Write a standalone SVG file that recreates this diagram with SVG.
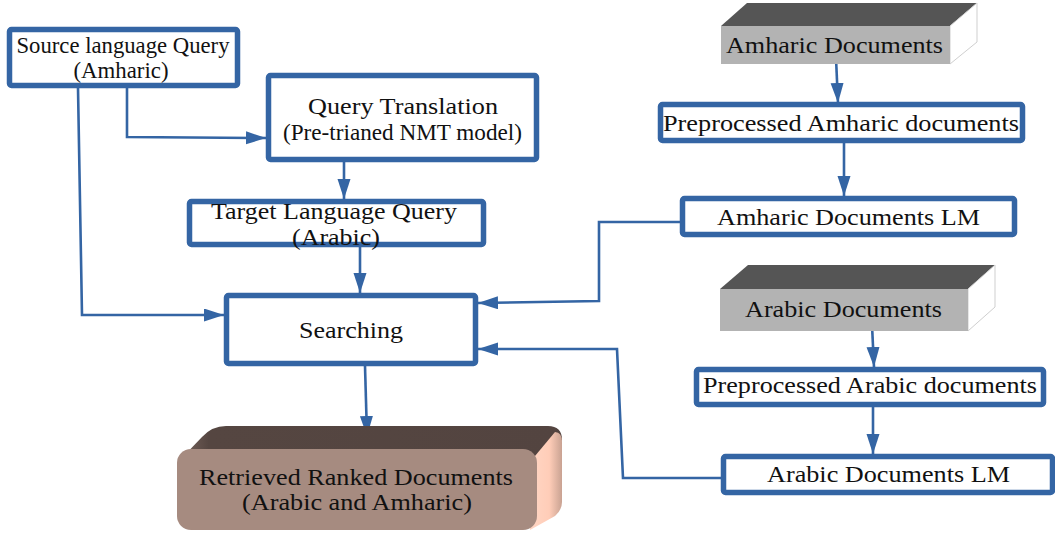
<svg xmlns="http://www.w3.org/2000/svg" width="1055" height="535" viewBox="0 0 1055 535">
<style>
.box{fill:#fff;stroke:#3465a4;stroke-width:5.5;}
.con{fill:none;stroke:#3465a4;stroke-width:2.6;stroke-linejoin:miter;}
text{font-family:"Liberation Serif","Times New Roman",serif;font-size:23px;fill:#111;text-anchor:middle;}
.gfront{fill:#b3b3b3;}
.gtop{fill:#555555;}
.gside{fill:#ffffff;stroke:#cfcfcf;stroke-width:1;}
</style>
<defs>
<marker id="arr" markerUnits="userSpaceOnUse" markerWidth="22" markerHeight="14" refX="20" refY="6.5" orient="auto">
<path d="M0,0 L20,6.5 L0,13 Z" fill="#3465a4"/>
</marker>
<linearGradient id="peach" x1="0" y1="0" x2="1" y2="0">
<stop offset="0" stop-color="#ffd6c4"/>
<stop offset="0.6" stop-color="#ffcdb8"/>
<stop offset="1" stop-color="#c9a292"/>
</linearGradient>
<linearGradient id="brown" x1="0" y1="0" x2="1" y2="0">
<stop offset="0" stop-color="#7a665f"/>
<stop offset="0.08" stop-color="#554641"/>
<stop offset="1" stop-color="#534440"/>
</linearGradient>
</defs>

<g id="connectors">
<polyline class="con" points="78,88 82,315 224,315" marker-end="url(#arr)"/>
<polyline class="con" points="127,88 127,137 266,138" marker-end="url(#arr)"/>
<polyline class="con" points="344,162 344,199" marker-end="url(#arr)"/>
<polyline class="con" points="360,247 360,293" marker-end="url(#arr)"/>
<polyline class="con" points="365,366 367,436" marker-end="url(#arr)"/>
<polyline class="con" points="836,58 838,103" marker-end="url(#arr)"/>
<polyline class="con" points="844,143 844,196" marker-end="url(#arr)"/>
<polyline class="con" points="682,222 599,222 599,301 478,303" marker-end="url(#arr)"/>
<polyline class="con" points="872,325 874,367" marker-end="url(#arr)"/>
<polyline class="con" points="873,407 873,454" marker-end="url(#arr)"/>
<polyline class="con" points="723,478 623,478 617,349 478,349" marker-end="url(#arr)"/>
</g>

<g id="source">
<rect class="box" x="9.5" y="29.5" width="228" height="56" rx="2"/>
<text x="123" y="53" font-size="21" textLength="213" lengthAdjust="spacingAndGlyphs">Source language Query</text>
<text x="121" y="78" font-size="21" textLength="95" lengthAdjust="spacingAndGlyphs">(Amharic)</text>
</g>

<g id="query-translation">
<rect class="box" x="268.5" y="75.5" width="268" height="84" rx="2"/>
<text x="403" y="114" textLength="190" lengthAdjust="spacingAndGlyphs">Query Translation</text>
<text x="402.5" y="140" font-size="20" textLength="239" lengthAdjust="spacingAndGlyphs">(Pre-trianed NMT model)</text>
</g>

<g id="target">
<rect class="box" x="189.5" y="201.5" width="294" height="43" rx="2"/>
<text x="334" y="219" textLength="246" lengthAdjust="spacingAndGlyphs">Target Language Query</text>
<text x="336" y="245" textLength="88" lengthAdjust="spacingAndGlyphs">(Arabic)</text>
</g>

<g id="searching">
<rect class="box" x="226.5" y="295.5" width="249" height="68" rx="2"/>
<text x="351" y="338" textLength="104" lengthAdjust="spacingAndGlyphs">Searching</text>
</g>

<g id="retrieved">
<path d="M178,462 L202,437 Q212,426 226,426 L548,426 Q562,426 562,440 L537,462 Z" fill="url(#brown)"/>
<path d="M530,462 L555,432 Q562,432 562,442 L562,502 Q562,510 555,516 L530,530 Z" fill="url(#peach)"/>
<rect x="177" y="449" width="360" height="81" rx="14" fill="#a68b80"/>
<text x="356" y="485" textLength="314" lengthAdjust="spacingAndGlyphs">Retrieved Ranked Documents</text>
<text x="357" y="510" textLength="230" lengthAdjust="spacingAndGlyphs">(Arabic and Amharic)</text>
</g>

<g id="amharic-docs">
<polygon class="gtop" points="721,26 747,3 977,3 950,26"/>
<polygon class="gside" points="950,26 977,3 977,42 950,64"/>
<rect class="gfront" x="721" y="26" width="229" height="38"/>
<text x="834.5" y="53" textLength="217" lengthAdjust="spacingAndGlyphs">Amharic Documents</text>
</g>

<g id="prep-amharic">
<rect class="box" x="660.5" y="104.5" width="362" height="36" rx="2"/>
<text x="841" y="131" textLength="356" lengthAdjust="spacingAndGlyphs">Preprocessed Amharic documents</text>
</g>

<g id="amharic-lm">
<rect class="box" x="682.5" y="198.5" width="332" height="36" rx="2"/>
<text x="848.5" y="225" textLength="263" lengthAdjust="spacingAndGlyphs">Amharic Documents LM</text>
</g>

<g id="arabic-docs">
<polygon class="gtop" points="720,289 748,265 995,265 968,289"/>
<polygon class="gside" points="968,289 995,265 995,307 968,331"/>
<rect class="gfront" x="720" y="289" width="248" height="42"/>
<text x="843.5" y="317" textLength="197" lengthAdjust="spacingAndGlyphs">Arabic Documents</text>
</g>

<g id="prep-arabic">
<rect class="box" x="696.5" y="369.5" width="347" height="35" rx="2"/>
<text x="870" y="393" textLength="334" lengthAdjust="spacingAndGlyphs">Preprocessed Arabic documents</text>
</g>

<g id="arabic-lm">
<rect class="box" x="723.5" y="456.5" width="329" height="36" rx="2"/>
<text x="888.5" y="482" textLength="243" lengthAdjust="spacingAndGlyphs">Arabic Documents LM</text>
</g>
</svg>
